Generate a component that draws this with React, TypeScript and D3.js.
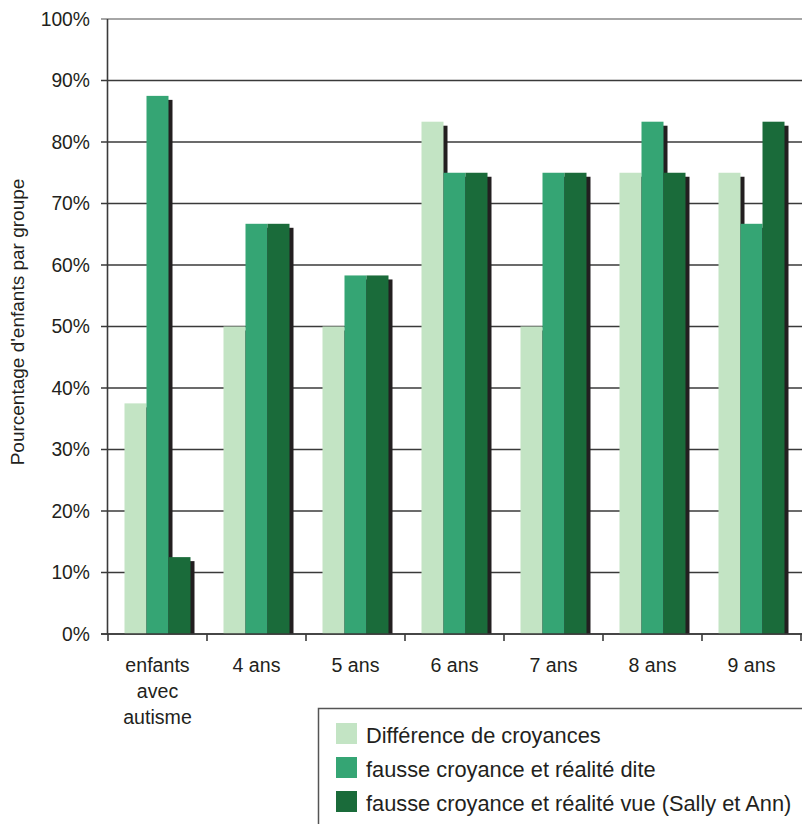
import React from "react";
import * as d3 from "d3";

const categories = ["enfants\navec\nautisme", "4 ans", "5 ans", "6 ans", "7 ans", "8 ans", "9 ans"];
const seriesNames = [
  "Différence de croyances",
  "fausse croyance et réalité dite",
  "fausse croyance et réalité vue (Sally et Ann)",
];
const serie1 = [37.5, 50, 50, 83.3, 50, 75, 75];
const serie2 = [87.5, 66.7, 58.3, 75, 75, 83.3, 66.7];
const serie3 = [12.5, 66.7, 58.3, 75, 75, 75, 83.3];
const yTicks = [0, 10, 20, 30, 40, 50, 60, 70, 80, 90, 100];
const colors = ["#c3e4c4", "#35a574", "#1a6b3a"];

export default function App() {
  const W = 802, H = 824;
  const left = 108, right = 801, top = 19, bottom = 634;
  const font = "Liberation Sans, Arial, sans-serif";
  const series = [serie1, serie2, serie3];
  const x = d3.scaleBand<number>().domain(d3.range(categories.length)).range([left, right]).paddingInner(0).paddingOuter(0);
  const inner = d3.scaleBand<number>().domain([0, 1, 2]).range([16.5, 82.5]).padding(0);
  const y = d3.scaleLinear().domain([0, 100]).range([bottom, top]);
  const sh = 4;
  return (
    <svg width={W} height={H} style={{ position: "absolute", left: 0, top: 0 }} fontFamily={font}>
      <rect x={0} y={0} width={W} height={H} fill="#fff" />
      {yTicks.map((t) => (
        <g key={t}>
          <line x1={101} x2={W} y1={y(t)} y2={y(t)} stroke={t === 100 ? "#888" : "#3a3a3a"} strokeWidth={1.6} />
          <text x={90} y={y(t)} dy="0.35em" textAnchor="end" fontSize={19.3} fill="#231f20">{t}%</text>
        </g>
      ))}
      {categories.map((c, i) => (
        <g key={c}>
          {series.map((s, k) => {
            const bx = (x(i) as number) + (inner(k) as number);
            const bw = inner.bandwidth();
            return (
              <g key={k}>
                <rect x={bx + sh} y={y(s[i]) + sh} width={bw} height={bottom - y(s[i]) - sh} fill="#231f20" />
                <rect x={bx} y={y(s[i])} width={bw} height={bottom - y(s[i])} fill={colors[k]} />
              </g>
            );
          })}
        </g>
      ))}
      <line x1={107.5} x2={107.5} y1={top} y2={bottom + 1} stroke="#3a3a3a" strokeWidth={1.6} />
      <line x1={101} x2={W} y1={bottom} y2={bottom} stroke="#3a3a3a" strokeWidth={1.6} />
      {d3.range(categories.length + 1).map((i) => {
        const xx = i < categories.length ? (x(i) as number) : right;
        return <line key={i} x1={xx} x2={xx} y1={bottom} y2={bottom + 7} stroke="#3a3a3a" strokeWidth={1.6} />;
      })}
      {categories.map((c, i) => (
        <text key={c} x={(x(i) as number) + x.bandwidth() / 2} y={672} textAnchor="middle" fontSize={19.6} fill="#231f20">
          {c.split("\n").map((l, j) => (
            <tspan key={j} x={(x(i) as number) + x.bandwidth() / 2} dy={j === 0 ? 0 : 26}>{l}</tspan>
          ))}
        </text>
      ))}
      <text transform={`translate(24,322) rotate(-90)`} textAnchor="middle" fontSize={19} fill="#231f20">
        Pourcentage d'enfants par groupe
      </text>
      <rect x={318.5} y={708.5} width={520} height={140} fill="#fff" stroke="#555" strokeWidth={1.5} />
      {seriesNames.map((n, k) => (
        <g key={n}>
          <rect x={336} y={723 + k * 34} width={21} height={21} fill={colors[k]} />
          <text x={366} y={743 + k * 34} fontSize={21.8} fill="#231f20">{n}</text>
        </g>
      ))}
    </svg>
  );
}
